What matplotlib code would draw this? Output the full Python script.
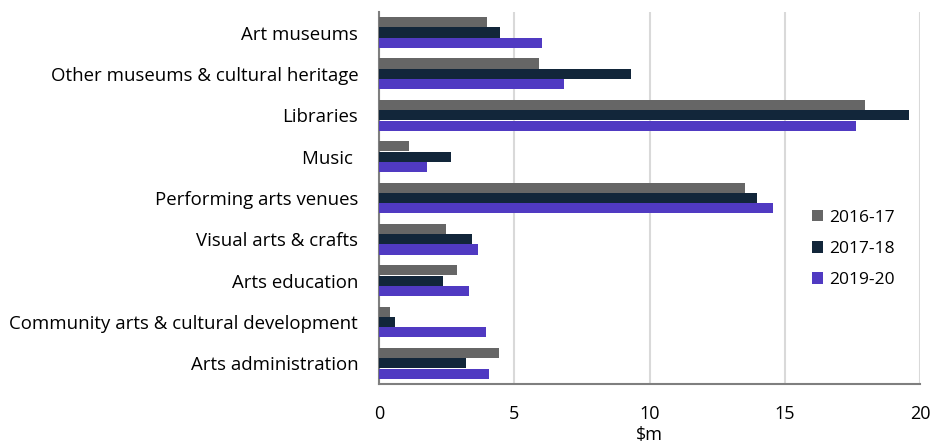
import matplotlib
matplotlib.use("Agg")
import matplotlib.pyplot as plt
import numpy as np

plt.rcParams['font.family'] = ['Open Sans', 'DejaVu Sans']

categories = ["Art museums", "Other museums & cultural heritage", "Libraries", "Music ",
              "Performing arts venues", "Visual arts & crafts", "Arts education",
              "Community arts & cultural development", "Arts administration"]
series_names = ["2016-17", "2017-18", "2019-20"]
v_2016_17 = [4.0, 5.93, 17.98, 1.11, 13.54, 2.49, 2.87, 0.41, 4.45]
v_2017_18 = [4.46, 9.30, 19.6, 2.66, 13.97, 3.42, 2.38, 0.60, 3.21]
v_2019_20 = [6.02, 6.85, 17.65, 1.79, 14.56, 3.66, 3.31, 3.95, 4.06]
colors = ["#666666", "#12263A", "#503AC2"]

fig = plt.figure(figsize=(9.33, 4.44), dpi=100)
ax = fig.add_axes([379/933, 1-384/444, (920-379)/933, (384-12)/444])

y = np.arange(len(categories))
h = 0.25
for i, (vals, name, c) in enumerate(zip([v_2016_17, v_2017_18, v_2019_20], series_names, colors)):
    ax.barh(y + (i - 1) * h, vals, height=h, color=c, label=name, zorder=3)

ax.set_ylim(len(categories) - 0.5, -0.5)
ax.set_yticks(y)
ax.set_yticklabels(categories, fontsize=13.4)
ax.set_xlim(0, 20)
ax.set_xticks([0, 5, 10, 15, 20])
ax.tick_params(axis='x', length=0, pad=15, labelsize=13)
ax.tick_params(axis='y', length=0, pad=15)
ax.set_xlabel("$m", fontsize=13, labelpad=2.5)
ax.xaxis.grid(True, color="#D9D9D9", linewidth=1.5, zorder=0)
for s in ["top", "right"]:
    ax.spines[s].set_visible(False)
for s in ["left", "bottom"]:
    ax.spines[s].set_color("#7F7F7F")
    ax.spines[s].set_linewidth(1.5)

leg = ax.legend(loc="center left", bbox_to_anchor=((796-379)/541, 0.363), frameon=False,
                fontsize=12.5, handlelength=0.65, handleheight=0.65, handletextpad=0.35,
                labelspacing=0.88)

fig.savefig("out.png", dpi=100)
